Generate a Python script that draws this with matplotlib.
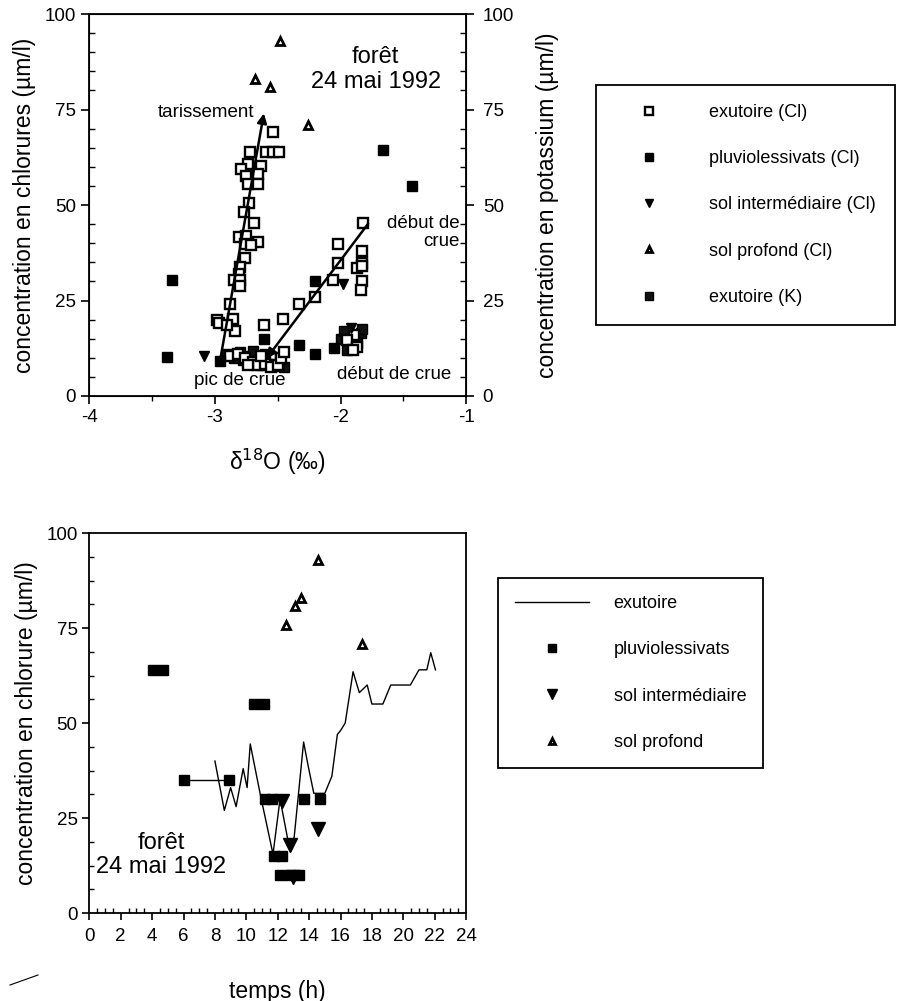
import numpy as np
import matplotlib
matplotlib.use("Agg")
import matplotlib.pyplot as plt
from matplotlib.ticker import MultipleLocator
from matplotlib.lines import Line2D

plt.rcParams["font.family"] = ["Liberation Sans", "DejaVu Sans"]
plt.rcParams["axes.unicode_minus"] = False

# ── Top panel: chloride / potassium vs delta 18O ─────────────────────────────
exu_cl_x = [-2.54, -2.72, -2.59, -2.54, -2.49, -2.74, -2.79, -2.63, -2.66, -2.75,
            -2.74, -2.66, -2.73, -2.77, -2.69, -2.81, -2.75, -2.76, -2.66, -2.71,
            -2.76, -2.80, -2.81, -2.85, -2.80, -2.80, -2.88, -2.86, -2.98, -2.97,
            -2.84, -2.90,
            -1.82, -2.02, -1.83, -2.02, -1.83, -1.87, -1.83, -1.83, -2.06, -1.84,
            -2.20, -2.33, -2.46, -2.61,
            -2.88, -2.82, -2.76, -2.70, -2.66, -2.60, -2.55, -2.50, -2.47, -2.45,
            -2.74, -2.63, -1.89, -1.95, -1.87, -1.90]
exu_cl_y = [69.2, 64.0, 64.0, 64.0, 64.0, 60.8, 59.3, 60.2, 58.2, 57.5,
            55.6, 55.4, 50.5, 48.2, 45.4, 41.6, 42.0, 39.9, 40.2, 39.5,
            36.2, 33.8, 31.9, 30.3, 30.3, 28.8, 24.0, 20.1, 19.9, 19.2,
            17.0, 18.5,
            45.3, 39.9, 38.0, 34.9, 34.9, 33.4, 34.1, 30.1, 30.3, 27.7,
            26.0, 24.2, 20.1, 18.6,
            10.5, 11.0, 10.0, 9.0, 8.0, 8.5, 7.5, 8.0, 10.0, 11.5,
            8.0, 10.5, 15.9, 14.6, 12.9, 12.0]

pluvio_cl_x = [-3.38, -3.34, -2.96, -2.61, -2.33, -2.20, -2.20, -1.66, -1.43, -2.05]
pluvio_cl_y = [10.3, 30.3, 9.1, 15.0, 13.3, 11.0, 30.0, 64.3, 55.1, 12.6]

solint_cl_x = [-3.09, -1.98, -1.92]
solint_cl_y = [10.5, 29.3, 17.9]

solprof_cl_x = [-2.48, -2.68, -2.56, -2.26]
solprof_cl_y = [92.9, 83.0, 81.0, 71.0]

exu_k_x = [-2.90, -2.85, -2.80, -2.78, -2.72, -2.68, -2.64, -2.58, -2.52, -2.48,
           -2.45, -2.60, -2.70, -2.00, -1.97, -1.90, -1.84, -1.83, -1.95, -1.87]
exu_k_y = [11.0, 10.0, 11.5, 9.5, 10.5, 9.0, 8.0, 8.5, 7.8, 9.5,
           7.5, 11.0, 11.8, 15.0, 17.0, 13.0, 16.5, 17.5, 12.0, 14.0]

# ── Bottom panel: chloride vs time ───────────────────────────────────────────
exu_t = [8.0, 8.6, 9.0, 9.35, 9.8, 10.05, 10.25, 10.9, 11.7, 12.15, 12.75, 13.05,
         13.65, 13.95, 14.3, 15.0, 15.45, 15.8, 16.0, 16.3, 16.8, 17.2, 17.7, 18.0,
         18.7, 19.2, 20.45, 21.0, 21.5, 21.75, 22.05]
exu_cl = [40, 27, 33, 28, 38, 33, 44.5, 31, 15.5, 30, 17, 20,
          45, 38.5, 31.5, 31.5, 36, 47, 48, 50, 63.5, 58, 60, 55,
          55, 60, 60, 64, 64, 68.5, 64]

pluvio_t = [4.04, 4.72, 6.06, 8.87, 10.46, 11.1, 11.2, 11.65, 11.75, 12.25,
            12.16, 12.8, 13.33, 13.65, 14.67]
pluvio_y = [64, 64, 35, 35, 55, 55, 30, 30, 15, 15, 10, 10, 10, 30, 30]

solint_t = [12.3, 12.8, 13.0, 14.55]
solint_y = [29.5, 18.0, 9.6, 22.0]

solprof_t = [12.52, 13.07, 13.5, 14.54, 17.37]
solprof_y = [75.8, 80.8, 82.8, 92.9, 70.7]

TICK_FS = 13.5
LABEL_FS = 16.5
NOTE_FS = 13.5
LEG_FS = 13

fig = plt.figure(figsize=(8.97, 10.01), dpi=100)

# ── top panel ────────────────────────────────────────────────────────────────
ax = fig.add_axes([0.0996, 0.6044, 0.42, 0.3816])
h1, = ax.plot(exu_cl_x, exu_cl_y, ls="none", marker="s", ms=6.5, mfc="white",
              mec="black", mew=1.7, label="exutoire (Cl)", zorder=3)
h2, = ax.plot(pluvio_cl_x, pluvio_cl_y, ls="none", marker="s", ms=6.5, mfc="black",
              mec="black", label="pluviolessivats (Cl)", zorder=3)
h3, = ax.plot(solint_cl_x, solint_cl_y, ls="none", marker="v", ms=7, mfc="black",
              mec="black", label="sol intermédiaire (Cl)", zorder=3)
h4, = ax.plot(solprof_cl_x, solprof_cl_y, ls="none", marker="^", ms=6, mfc="white",
              mec="black", mew=2, label="sol profond (Cl)", zorder=3)
h5, = ax.plot(exu_k_x, exu_k_y, ls="none", marker="s", ms=6.5, mfc="#111111",
              mec="black", label="exutoire (K)", zorder=2)

arrow = dict(arrowstyle="-|>", color="black", lw=1.8, mutation_scale=14,
             shrinkA=0, shrinkB=0)
ax.annotate("", xy=(-2.61, 74.0), xytext=(-2.96, 9.1), arrowprops=arrow, zorder=4)
ax.annotate("", xy=(-2.59, 9.8), xytext=(-1.78, 45.1), arrowprops=arrow, zorder=4)

ax.text(-2.69, 74.3, "tarissement", fontsize=NOTE_FS, ha="right", va="center")
ax.text(-1.72, 85.5, "forêt\n24 mai 1992", fontsize=17, ha="center", va="center",
        linespacing=1.15)
ax.text(-1.05, 42.8, "début de\ncrue", fontsize=NOTE_FS, ha="right", va="center",
        linespacing=1.15)
ax.text(-2.80, 4.0, "pic de crue", fontsize=NOTE_FS, ha="center", va="center")
ax.text(-1.57, 5.5, "début de crue", fontsize=NOTE_FS, ha="center", va="center")

ax.set_xlim(-4, -1)
ax.set_ylim(0, 100)
ax.xaxis.set_major_locator(MultipleLocator(1))
ax.xaxis.set_minor_locator(MultipleLocator(0.5))
ax.yaxis.set_major_locator(MultipleLocator(25))
ax.yaxis.set_minor_locator(MultipleLocator(5))
ax.tick_params(which="major", direction="out", length=6, width=1.2,
               labelsize=TICK_FS, top=False, right=False)
ax.tick_params(axis="y", which="minor", direction="in", length=4, width=1,
               right=False)
ax.tick_params(axis="x", which="minor", direction="out", length=3.5, width=1,
               top=False)
ax.set_ylabel("concentration en chlorures (µm/l)", fontsize=LABEL_FS, labelpad=6)
ax.set_xlabel("δ$^{18}$O (‰)", fontsize=LABEL_FS, labelpad=15)
for s in ax.spines.values():
    s.set_linewidth(1.3)

ax2 = ax.twinx()
ax2.set_ylim(0, 100)
ax2.yaxis.set_major_locator(MultipleLocator(25))
ax2.yaxis.set_minor_locator(MultipleLocator(5))
ax2.tick_params(which="major", direction="out", length=6, width=1.2,
                labelsize=TICK_FS, pad=6)
ax2.tick_params(which="minor", direction="in", length=4, width=1)
ax2.set_ylabel("concentration en potassium (µm/l)", fontsize=LABEL_FS, labelpad=16)

fig.legend(handles=[h1, h2, h3, h4, h5], loc="upper left",
           bbox_to_anchor=(596 / 897, 1 - 85 / 1001), bbox_transform=fig.transFigure,
           borderaxespad=0, fontsize=LEG_FS, numpoints=1, markerscale=0.8,
           frameon=True, fancybox=False, edgecolor="black", framealpha=1,
           borderpad=1.05, handlelength=3.8, handletextpad=1.4, labelspacing=1.62)
fig.legends[-1].get_frame().set_linewidth(1.3)

# ── bottom panel ─────────────────────────────────────────────────────────────
bx = fig.add_axes([0.0996, 0.0879, 0.42, 0.3796])
g1, = bx.plot(exu_t, exu_cl, color="black", lw=1.0, label="exutoire", zorder=2)
bx.plot(pluvio_t[2:4], pluvio_y[2:4], color="black", lw=1.0, zorder=2)
g2, = bx.plot(pluvio_t, pluvio_y, ls="none", marker="s", ms=7, mfc="black",
              mec="black", label="pluviolessivats", zorder=3)
g3, = bx.plot(solint_t, solint_y, ls="none", marker="v", ms=9.5, mfc="black",
              mec="black", label="sol intermédiaire", zorder=3)
g4, = bx.plot(solprof_t, solprof_y, ls="none", marker="^", ms=6, mfc="white",
              mec="black", mew=2, label="sol profond", zorder=3)

bx.text(4.6, 15.3, "forêt\n24 mai 1992", fontsize=17, ha="center", va="center",
        linespacing=1.1)

bx.set_xlim(0, 24)
bx.set_ylim(0, 100)
bx.xaxis.set_major_locator(MultipleLocator(2))
bx.xaxis.set_minor_locator(MultipleLocator(0.5))
bx.yaxis.set_major_locator(MultipleLocator(25))
bx.yaxis.set_minor_locator(MultipleLocator(6.25))
bx.tick_params(which="major", direction="out", length=5, width=1.2,
               labelsize=TICK_FS, top=False, right=False)
bx.tick_params(axis="x", which="major", pad=6)
bx.tick_params(which="minor", direction="in", length=3.5, width=1,
               top=False, right=False)
bx.set_ylabel("concentration en chlorure (µm/l)", fontsize=LABEL_FS, labelpad=6)
bx.set_xlabel("temps (h)", fontsize=LABEL_FS, labelpad=25)
for s in bx.spines.values():
    s.set_linewidth(1.3)

fig.legend(handles=[g1, g2, g3, g4], loc="upper left",
           bbox_to_anchor=(498 / 897, 1 - 578 / 1001), bbox_transform=fig.transFigure,
           borderaxespad=0, fontsize=LEG_FS, numpoints=1, markerscale=0.8,
           frameon=True, fancybox=False, edgecolor="black", framealpha=1,
           borderpad=0.95, handlelength=4.1, handletextpad=1.35, labelspacing=1.62)
fig.legends[-1].get_frame().set_linewidth(1.3)

# stray pen stroke from the scanned original
fig.add_artist(Line2D([10 / 897, 24 / 897, 38 / 897],
                      [1 - 985 / 1001, 1 - 980 / 1001, 1 - 975 / 1001],
                      color="black", lw=0.8))

fig.savefig("out.png", dpi=100)
